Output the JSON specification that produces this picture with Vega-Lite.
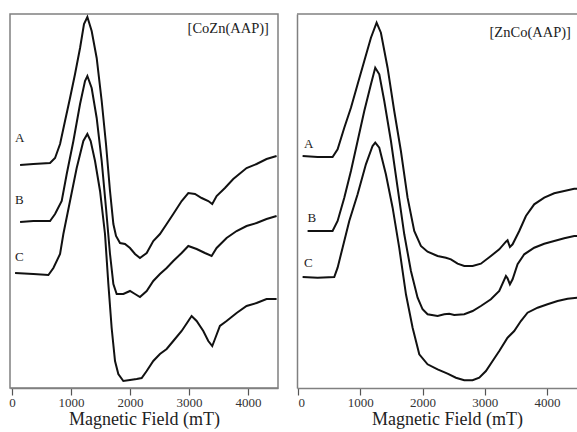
{
  "$schema": "https://vega.github.io/schema/vega-lite/v6.json",
  "padding": {"left": 8, "top": 12, "right": 0, "bottom": 0},
  "spacing": 19,
  "bounds": "flush",
  "config": {"view": {"stroke": null}, "axis": {"grid": false, "domainColor": "#808080"}},
  "datasets": {
    "left": [
      {"trace":"A","field":136,"signal":223},{"trace":"A","field":361,"signal":224},{"trace":"A","field":644,"signal":225},{"trace":"A","field":729,"signal":230},{"trace":"A","field":814,"signal":244},{"trace":"A","field":898,"signal":267},{"trace":"A","field":983,"signal":290},{"trace":"A","field":1068,"signal":314},{"trace":"A","field":1153,"signal":340},{"trace":"A","field":1220,"signal":364},{"trace":"A","field":1277,"signal":371},{"trace":"A","field":1350,"signal":357},{"trace":"A","field":1435,"signal":330},{"trace":"A","field":1520,"signal":287},{"trace":"A","field":1593,"signal":244},{"trace":"A","field":1661,"signal":197},{"trace":"A","field":1718,"signal":164},{"trace":"A","field":1763,"signal":152},{"trace":"A","field":1831,"signal":145},{"trace":"A","field":1915,"signal":144},{"trace":"A","field":2000,"signal":140},{"trace":"A","field":2085,"signal":134},{"trace":"A","field":2169,"signal":130},{"trace":"A","field":2283,"signal":135},{"trace":"A","field":2395,"signal":147},{"trace":"A","field":2508,"signal":154},{"trace":"A","field":2622,"signal":164},{"trace":"A","field":2734,"signal":174},{"trace":"A","field":2876,"signal":187},{"trace":"A","field":2989,"signal":195},{"trace":"A","field":3102,"signal":194},{"trace":"A","field":3215,"signal":190},{"trace":"A","field":3328,"signal":187},{"trace":"A","field":3395,"signal":184},{"trace":"A","field":3469,"signal":192},{"trace":"A","field":3610,"signal":200},{"trace":"A","field":3751,"signal":209},{"trace":"A","field":3977,"signal":220},{"trace":"A","field":4147,"signal":224},{"trace":"A","field":4316,"signal":229},{"trace":"A","field":4486,"signal":232},
      {"trace":"B","field":136,"signal":166},{"trace":"B","field":361,"signal":167},{"trace":"B","field":644,"signal":167},{"trace":"B","field":729,"signal":174},{"trace":"B","field":842,"signal":187},{"trace":"B","field":927,"signal":214},{"trace":"B","field":1040,"signal":247},{"trace":"B","field":1153,"signal":284},{"trace":"B","field":1237,"signal":307},{"trace":"B","field":1277,"signal":312},{"trace":"B","field":1350,"signal":300},{"trace":"B","field":1435,"signal":270},{"trace":"B","field":1520,"signal":227},{"trace":"B","field":1593,"signal":180},{"trace":"B","field":1661,"signal":134},{"trace":"B","field":1718,"signal":104},{"trace":"B","field":1774,"signal":94},{"trace":"B","field":1887,"signal":94},{"trace":"B","field":2000,"signal":97},{"trace":"B","field":2085,"signal":94},{"trace":"B","field":2169,"signal":91},{"trace":"B","field":2283,"signal":97},{"trace":"B","field":2395,"signal":107},{"trace":"B","field":2508,"signal":114},{"trace":"B","field":2622,"signal":120},{"trace":"B","field":2734,"signal":127},{"trace":"B","field":2876,"signal":135},{"trace":"B","field":2989,"signal":142},{"trace":"B","field":3130,"signal":139},{"trace":"B","field":3271,"signal":135},{"trace":"B","field":3384,"signal":132},{"trace":"B","field":3469,"signal":140},{"trace":"B","field":3638,"signal":150},{"trace":"B","field":3808,"signal":157},{"trace":"B","field":3977,"signal":162},{"trace":"B","field":4147,"signal":165},{"trace":"B","field":4316,"signal":169},{"trace":"B","field":4486,"signal":172},
      {"trace":"C","field":51,"signal":115},{"trace":"C","field":361,"signal":114},{"trace":"C","field":616,"signal":113},{"trace":"C","field":701,"signal":120},{"trace":"C","field":814,"signal":134},{"trace":"C","field":870,"signal":154},{"trace":"C","field":983,"signal":187},{"trace":"C","field":1096,"signal":220},{"trace":"C","field":1209,"signal":247},{"trace":"C","field":1277,"signal":254},{"trace":"C","field":1333,"signal":247},{"trace":"C","field":1407,"signal":227},{"trace":"C","field":1492,"signal":197},{"trace":"C","field":1576,"signal":154},{"trace":"C","field":1633,"signal":104},{"trace":"C","field":1689,"signal":60},{"trace":"C","field":1746,"signal":27},{"trace":"C","field":1802,"signal":14},{"trace":"C","field":1887,"signal":7},{"trace":"C","field":2000,"signal":8},{"trace":"C","field":2113,"signal":9},{"trace":"C","field":2198,"signal":10},{"trace":"C","field":2283,"signal":17},{"trace":"C","field":2395,"signal":27},{"trace":"C","field":2508,"signal":34},{"trace":"C","field":2622,"signal":39},{"trace":"C","field":2734,"signal":47},{"trace":"C","field":2876,"signal":57},{"trace":"C","field":2989,"signal":67},{"trace":"C","field":3045,"signal":72},{"trace":"C","field":3130,"signal":67},{"trace":"C","field":3243,"signal":57},{"trace":"C","field":3328,"signal":47},{"trace":"C","field":3395,"signal":42},{"trace":"C","field":3441,"signal":49},{"trace":"C","field":3525,"signal":62},{"trace":"C","field":3638,"signal":67},{"trace":"C","field":3808,"signal":75},{"trace":"C","field":3977,"signal":82},{"trace":"C","field":4147,"signal":85},{"trace":"C","field":4316,"signal":89},{"trace":"C","field":4486,"signal":89}
    ],
    "right": [
      {"trace":"A","field":75,"signal":232},{"trace":"A","field":316,"signal":231},{"trace":"A","field":556,"signal":231},{"trace":"A","field":637,"signal":238.7},{"trace":"A","field":744,"signal":260.3},{"trace":"A","field":851,"signal":280.3},{"trace":"A","field":958,"signal":303.7},{"trace":"A","field":1065,"signal":327},{"trace":"A","field":1172,"signal":350.3},{"trace":"A","field":1263,"signal":365.3},{"trace":"A","field":1332,"signal":355.3},{"trace":"A","field":1439,"signal":320.3},{"trace":"A","field":1546,"signal":277},{"trace":"A","field":1653,"signal":237},{"trace":"A","field":1760,"signal":190.3},{"trace":"A","field":1867,"signal":157},{"trace":"A","field":1974,"signal":142},{"trace":"A","field":2081,"signal":136.3},{"trace":"A","field":2242,"signal":132},{"trace":"A","field":2376,"signal":130.3},{"trace":"A","field":2456,"signal":128.7},{"trace":"A","field":2563,"signal":124.3},{"trace":"A","field":2670,"signal":122},{"trace":"A","field":2804,"signal":122},{"trace":"A","field":2937,"signal":124.3},{"trace":"A","field":3098,"signal":132},{"trace":"A","field":3232,"signal":138.7},{"trace":"A","field":3339,"signal":146.3},{"trace":"A","field":3365,"signal":147.7},{"trace":"A","field":3403,"signal":141},{"trace":"A","field":3446,"signal":143.7},{"trace":"A","field":3553,"signal":157},{"trace":"A","field":3660,"signal":172},{"trace":"A","field":3793,"signal":183.7},{"trace":"A","field":3954,"signal":190.3},{"trace":"A","field":4114,"signal":194.7},{"trace":"A","field":4275,"signal":197},{"trace":"A","field":4435,"signal":199.3},{"trace":"A","field":4500,"signal":199.3},
      {"trace":"B","field":155,"signal":157},{"trace":"B","field":369,"signal":157},{"trace":"B","field":556,"signal":157},{"trace":"B","field":637,"signal":167},{"trace":"B","field":744,"signal":190.3},{"trace":"B","field":851,"signal":217},{"trace":"B","field":958,"signal":247},{"trace":"B","field":1065,"signal":277},{"trace":"B","field":1172,"signal":303.7},{"trace":"B","field":1241,"signal":320.3},{"trace":"B","field":1306,"signal":313.7},{"trace":"B","field":1386,"signal":287},{"trace":"B","field":1493,"signal":247},{"trace":"B","field":1600,"signal":200.3},{"trace":"B","field":1707,"signal":153.7},{"trace":"B","field":1814,"signal":117},{"trace":"B","field":1921,"signal":90.3},{"trace":"B","field":2001,"signal":78.7},{"trace":"B","field":2081,"signal":73.7},{"trace":"B","field":2242,"signal":72},{"trace":"B","field":2349,"signal":73.7},{"trace":"B","field":2429,"signal":74.3},{"trace":"B","field":2509,"signal":73},{"trace":"B","field":2670,"signal":73.7},{"trace":"B","field":2804,"signal":77},{"trace":"B","field":2937,"signal":82},{"trace":"B","field":3098,"signal":88.7},{"trace":"B","field":3232,"signal":97},{"trace":"B","field":3339,"signal":112},{"trace":"B","field":3365,"signal":109.7},{"trace":"B","field":3403,"signal":103.7},{"trace":"B","field":3446,"signal":108.7},{"trace":"B","field":3526,"signal":123.7},{"trace":"B","field":3633,"signal":133.7},{"trace":"B","field":3793,"signal":140.3},{"trace":"B","field":3954,"signal":144.3},{"trace":"B","field":4114,"signal":147},{"trace":"B","field":4275,"signal":149.7},{"trace":"B","field":4435,"signal":152},{"trace":"B","field":4500,"signal":152},
      {"trace":"C","field":75,"signal":111},{"trace":"C","field":316,"signal":110.3},{"trace":"C","field":583,"signal":111},{"trace":"C","field":637,"signal":120.3},{"trace":"C","field":717,"signal":140.3},{"trace":"C","field":824,"signal":167},{"trace":"C","field":958,"signal":193.7},{"trace":"C","field":1091,"signal":223.7},{"trace":"C","field":1198,"signal":242},{"trace":"C","field":1241,"signal":245.3},{"trace":"C","field":1306,"signal":240.3},{"trace":"C","field":1412,"signal":213.7},{"trace":"C","field":1520,"signal":180.3},{"trace":"C","field":1626,"signal":140.3},{"trace":"C","field":1734,"signal":93.7},{"trace":"C","field":1841,"signal":60.3},{"trace":"C","field":1948,"signal":33.7},{"trace":"C","field":2081,"signal":23.7},{"trace":"C","field":2242,"signal":18.7},{"trace":"C","field":2402,"signal":14.3},{"trace":"C","field":2536,"signal":10.3},{"trace":"C","field":2670,"signal":7.7},{"trace":"C","field":2804,"signal":7.7},{"trace":"C","field":2911,"signal":10.3},{"trace":"C","field":3018,"signal":17},{"trace":"C","field":3125,"signal":27},{"trace":"C","field":3232,"signal":37},{"trace":"C","field":3365,"signal":50.3},{"trace":"C","field":3472,"signal":57},{"trace":"C","field":3579,"signal":67},{"trace":"C","field":3686,"signal":75.3},{"trace":"C","field":3847,"signal":80.3},{"trace":"C","field":4007,"signal":83.7},{"trace":"C","field":4168,"signal":87},{"trace":"C","field":4329,"signal":89.3},{"trace":"C","field":4500,"signal":90.3}
    ],
    "leftLetters": [
      {"text":"A","field":51,"signal":250},{"text":"B","field":51,"signal":188},{"text":"C","field":51,"signal":131}
    ],
    "leftName": [{"text":"[CoZn(AAP)]","field":4356,"signal":359}],
    "rightLetters": [
      {"text":"A","field":96,"signal":244},{"text":"B","field":155,"signal":170},{"text":"C","field":96,"signal":125}
    ],
    "rightName": [{"text":"[ZnCo(AAP)]","field":4382,"signal":355}]
  },
  "hconcat": [
    {
      "width": 268,
      "height": 374,
      "view": {"stroke": "#808080", "strokeWidth": 1.5},
      "layer": [
        {"data": {"name": "left"}, "mark": {"type": "line", "color": "#111111", "strokeWidth": 2},
          "encoding": {
            "x": {"field": "field", "type": "quantitative", "scale": {"domain": [-35, 4510], "nice": false, "zero": false},
              "axis": {"title": "Magnetic Field (mT)", "values": [0,1000,2000,3000,4000], "format": "d", "tickSize": 7, "tickColor": "#555555", "tickWidth": 1.2, "domainWidth": 1.5, "labelFont": "Liberation Serif", "labelFontSize": 13, "labelColor": "#333333", "labelPadding": 1, "titleFont": "Liberation Serif", "titleFontSize": 18, "titleFontWeight": "normal", "titleColor": "#222222", "titlePadding": 1}},
            "y": {"field": "signal", "type": "quantitative", "scale": {"domain": [0, 374], "nice": false, "zero": false}, "axis": null},
            "detail": {"field": "trace"}}},
        {"data": {"name": "leftLetters"}, "mark": {"type": "text", "align": "left", "baseline": "middle", "fontSize": 13, "color": "#222222", "font": "Liberation Serif"},
          "encoding": {"x": {"field": "field", "type": "quantitative"}, "y": {"field": "signal", "type": "quantitative"}, "text": {"field": "text"}}},
        {"data": {"name": "leftName"}, "mark": {"type": "text", "align": "right", "baseline": "middle", "fontSize": 14.5, "color": "#222222", "font": "Liberation Serif"},
          "encoding": {"x": {"field": "field", "type": "quantitative"}, "y": {"field": "signal", "type": "quantitative"}, "text": {"field": "text"}}}
      ]
    },
    {
      "width": 280,
      "height": 374,
      "layer": [
        {"data": {"name": "right"}, "mark": {"type": "line", "color": "#111111", "strokeWidth": 2},
          "encoding": {
            "x": {"field": "field", "type": "quantitative", "scale": {"domain": [-15, 4480], "nice": false, "zero": false},
              "axis": {"title": "Magnetic Field (mT)", "titleX": 150, "values": [0,1000,2000,3000,4000], "format": "d", "tickSize": 7, "tickColor": "#555555", "tickWidth": 1.2, "domainWidth": 1.5, "labelFont": "Liberation Serif", "labelFontSize": 13, "labelColor": "#333333", "labelPadding": 1, "titleFont": "Liberation Serif", "titleFontSize": 18, "titleFontWeight": "normal", "titleColor": "#222222", "titlePadding": 1}},
            "y": {"field": "signal", "type": "quantitative", "scale": {"domain": [0, 374], "nice": false, "zero": false}, "axis": {"title": null, "labels": false, "ticks": false, "domainWidth": 1.5}},
            "detail": {"field": "trace"}}},
        {"data": {"name": "rightLetters"}, "mark": {"type": "text", "align": "left", "baseline": "middle", "fontSize": 13, "color": "#222222", "font": "Liberation Serif"},
          "encoding": {"x": {"field": "field", "type": "quantitative"}, "y": {"field": "signal", "type": "quantitative"}, "text": {"field": "text"}}},
        {"data": {"name": "rightName"}, "mark": {"type": "text", "align": "right", "baseline": "middle", "fontSize": 14.5, "color": "#222222", "font": "Liberation Serif"},
          "encoding": {"x": {"field": "field", "type": "quantitative"}, "y": {"field": "signal", "type": "quantitative"}, "text": {"field": "text"}}},
        {"data": {"values": [{}]}, "mark": {"type": "rule", "color": "#808080", "strokeWidth": 1.5}, "encoding": {"y": {"datum": 374}}}
      ]
    }
  ]
}
